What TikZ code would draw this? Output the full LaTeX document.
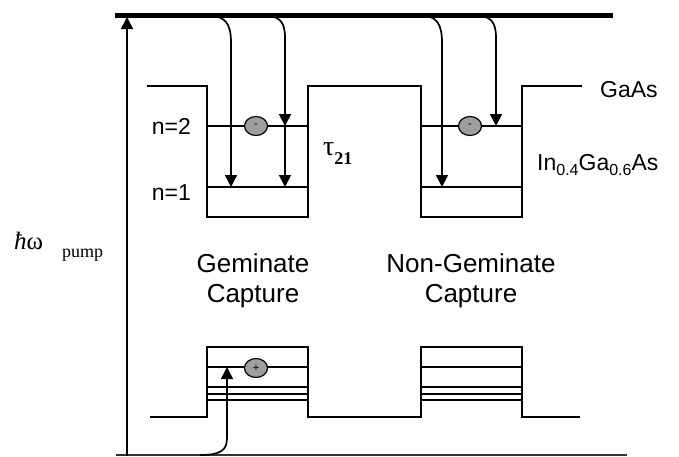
\documentclass[tikz,border=0pt]{standalone}
\usepackage{fontspec}
\setmainfont{Liberation Sans}
\newfontfamily\seriffont{Liberation Serif}
\usetikzlibrary{arrows.meta,shapes.geometric}
\definecolor{cgray}{gray}{0.62}
\begin{document}
\begin{tikzpicture}[x=1pt,y=-1pt,
  band/.style={line width=2pt, line join=miter},
  lvl/.style={line width=2pt},
  lvlthick/.style={line width=2.6pt},
  topline/.style={line width=4.5pt},
  botline/.style={line width=1.8pt, draw=black!80},
  arr/.style={line width=1.7pt, -{Triangle[length=12pt,width=12pt]}},
  carrier/.style={ellipse, draw, line width=1.2pt, fill=cgray, minimum width=23pt, minimum height=19pt, inner sep=0pt, font=\fontsize{11}{11}\selectfont},
  lab/.style={inner sep=0pt, font=\fontsize{23}{27}\selectfont},
  captext/.style={inner sep=0pt, align=center, font=\fontsize{26}{30}\selectfont}
]
\useasboundingbox (0,0) rectangle (679,456);

% top and bottom lines
\coordinate (topL) at (115,15.5);
\coordinate (topR) at (613,15.5);
\draw[topline] (topL) -- (topR);
\coordinate (botL) at (116,455);
\coordinate (botR) at (627,455);
\draw[botline] (botL) -- (botR);

% pump arrow
\coordinate (pumpB) at (127,456);
\coordinate (pumpT) at (127,17);
\draw[arr] (pumpB) -- (pumpT);
\node[inner sep=0pt, anchor=base west] (hw) at (14,249)
  {\seriffont\fontsize{25}{25}\selectfont\itshape ħ\upshape ω};
\node[inner sep=0pt, anchor=base west] (pump) at (62,257)
  {\seriffont\fontsize{18}{18}\selectfont pump};

% conduction band
\draw[band] (147,86) -- (207,86) -- (207,217) -- (308,217) -- (308,86)
  -- (421,86) -- (421,217) -- (522,217) -- (522,86) -- (582,86);
\draw[lvl] (207,126) -- (308,126);
\draw[lvl] (207,187) -- (308,187);
\draw[lvl] (421,126) -- (522,126);
\draw[lvl] (421,187) -- (522,187);

% valence band
\draw[band] (150,417) -- (207,417) -- (207,347) -- (308,347) -- (308,417)
  -- (421,417) -- (421,347) -- (522,347) -- (522,417) -- (580,417);
\foreach \xa/\xb in {207/308, 421/522}{
  \draw[lvlthick] (\xa,367) -- (\xb,367);
  \draw[lvl] (\xa,387) -- (\xb,387);
  \draw[lvl] (\xa,394) -- (\xb,394);
  \draw[lvl] (\xa,399.5) -- (\xb,399.5);
}

% carriers
\node[carrier] (e1) at (256,126) {-};
\node[carrier] (e2) at (470,126) {-};
\node[carrier] (h1) at (256,368) {+};

% capture arrows (left well)
\coordinate (a1s) at (207,15.5);
\coordinate (a1e) at (231,187);
\draw[arr] (a1s) .. controls (226,15.5) and (231,24) .. (231,43) -- (a1e);
\coordinate (a2s) at (263,15.5);
\coordinate (a2e) at (285,126);
\draw[arr] (a2s) .. controls (280,15.5) and (285,22) .. (285,38) -- (a2e);
\coordinate (a3e) at (285,187);
\draw[arr] (a2e) -- (a3e);

% capture arrows (right well)
\coordinate (b1s) at (420,15.5);
\coordinate (b1e) at (442,187);
\draw[arr] (b1s) .. controls (437,15.5) and (442,24) .. (442,43) -- (b1e);
\coordinate (b2s) at (475,15.5);
\coordinate (b2e) at (496,126);
\draw[arr] (b2s) .. controls (491,15.5) and (496,22) .. (496,38) -- (b2e);

% hole arrow
\coordinate (hs) at (200,455);
\coordinate (he) at (227,367);
\draw[arr] (hs) .. controls (221,455) and (227,450) .. (227,438) -- (he);

% labels
\node[lab, anchor=east] (n2) at (191,126) {n=2};
\node[lab, anchor=east] (n1) at (191,193) {n=1};
\node[lab, anchor=west] (gaas) at (600,90) {GaAs};
\node[lab, anchor=base west] (ingaas) at (537,170)
  {In\raisebox{-5pt}{\fontsize{16}{16}\selectfont 0.4}Ga\raisebox{-5pt}{\fontsize{16}{16}\selectfont 0.6}As};
\node[inner sep=0pt, anchor=base west] (tau) at (323,155)
  {\seriffont\fontsize{28}{28}\selectfont τ\raisebox{-9pt}{\fontsize{18}{18}\selectfont\bfseries 21}};
\node[captext] (gem) at (253,281) {Geminate\\Capture};
\node[captext] (ngem) at (471,281) {Non-Geminate\\Capture};
\end{tikzpicture}
\end{document}
